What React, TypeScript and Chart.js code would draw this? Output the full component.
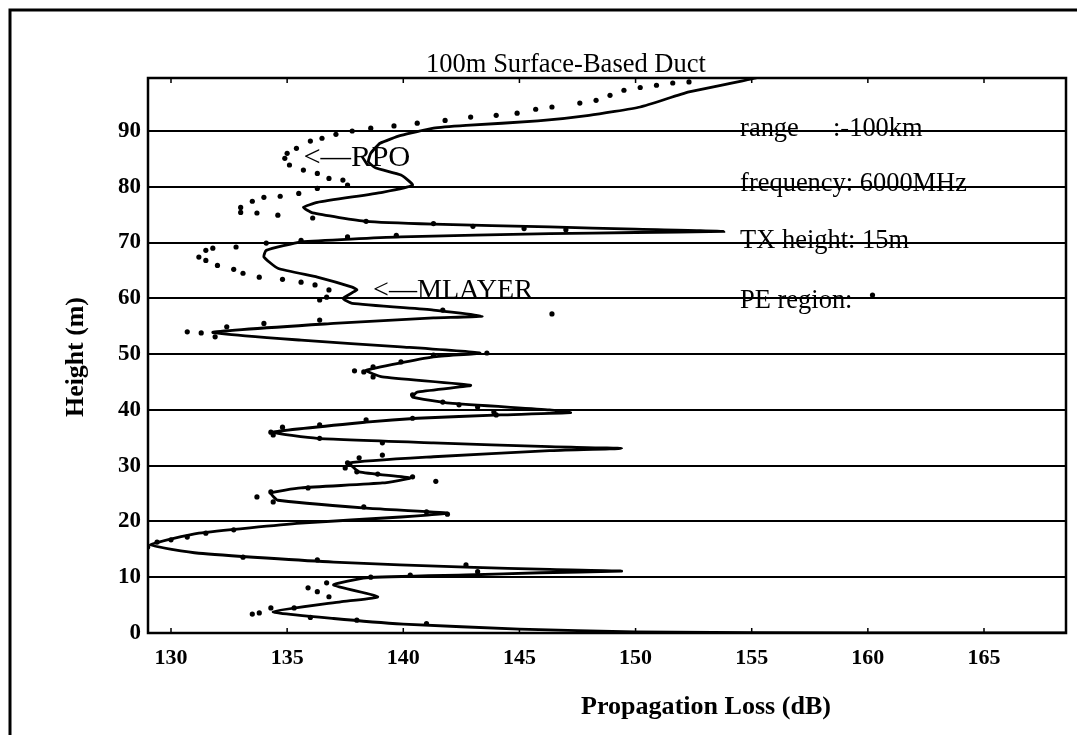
import React, { useEffect, useRef } from 'react';
import { Chart, registerables } from 'chart.js';

Chart.register(...registerables);

const FONT = '"Liberation Serif", "Times New Roman", serif';

// Solid curve (propagation loss in dB vs height in m), traced top to bottom
const solidLoss = [
  155.2, 152.3, 150.2, 148.0, 145.8, 142.7, 141.3, 139.9, 139.0, 138.6,
  138.5, 138.8, 139.9, 140.4, 139.1, 136.3, 135.7, 136.1, 138.4, 141.3,
  146.3, 150.0, 153.8, 150.0, 146.3, 139.9, 135.6, 134.1, 134.0, 134.6,
  136.3, 137.8, 138.0, 137.4, 137.8, 141.3, 143.4, 141.3, 137.0, 131.8,
  135.6, 139.9, 143.3, 141.3, 138.4, 139.1, 142.9, 140.6, 140.4, 142.0,
  146.3, 147.2, 144.2, 140.6, 138.4, 134.4, 136.3, 141.3, 146.3, 149.4,
  146.3, 141.3, 137.7, 138.1, 140.3, 139.1, 135.6, 134.3, 134.6, 138.4,
  141.9, 139.9, 135.6, 131.2, 129.1, 131.2, 137.0, 142.7, 146.3, 149.4,
  145.9, 142.7, 138.4, 137.0, 138.9, 137.3, 134.4, 137.0, 140.0, 145.0,
  150.0, 160.0, 168.5,
];
const solidHeight = [
  99.5, 97.0, 94.3, 92.8, 91.8, 91.0, 90.5, 89.2, 87.8, 86.0,
  84.5, 83.4, 82.1, 80.3, 79.0, 77.2, 76.3, 75.3, 73.8, 73.3,
  72.8, 72.4, 72.0, 71.8, 71.6, 71.0, 70.1, 68.6, 67.4, 65.4,
  63.8, 62.0, 61.5, 60.0, 59.1, 57.9, 56.8, 56.5, 55.5, 53.9,
  52.5, 51.3, 50.2, 49.5, 47.1, 45.9, 44.4, 43.2, 42.3, 41.2,
  40.0, 39.5, 39.1, 38.5, 37.8, 36.0, 34.9, 34.1, 33.4, 33.1,
  32.7, 31.6, 30.5, 28.9, 27.8, 26.9, 26.0, 25.1, 23.8, 22.4,
  21.5, 20.8, 19.7, 17.9, 15.8, 14.3, 12.7, 11.8, 11.4, 11.1,
  10.8, 10.4, 9.9, 8.6, 6.5, 5.6, 3.8, 2.6, 1.6, 0.7,
  0.2, 0.0, 0.0,
];

// Dotted series (PE region points)
const dotLoss = [
  152.3, 151.6, 150.9, 150.2, 149.5, 148.9, 148.3, 147.6, 146.4, 145.7,
  144.9, 144.0, 142.9, 141.8, 140.6, 139.6, 138.6, 137.8, 137.1, 136.5,
  136.0, 135.4, 135.0, 134.9, 135.1, 135.7, 136.3, 136.8, 137.4, 137.6,
  136.3, 135.5, 134.7, 134.0, 133.5, 133.0, 133.0, 133.7, 134.6, 136.1,
  138.4, 141.3, 143.0, 145.2, 147.0,
  139.7, 137.6, 135.6, 134.1, 132.8, 131.8, 131.5, 131.2, 131.5, 132.0,
  132.7, 133.1, 133.8, 134.8, 135.6, 136.2, 136.8, 136.7, 136.4,
  141.7, 146.4, 136.4, 134.0, 132.4, 131.3, 130.7, 131.9,
  143.6, 141.3, 139.9, 138.7, 138.3, 137.9, 138.7,
  140.4, 141.7, 142.4, 143.2, 143.9, 144.0,
  140.4, 138.4, 136.4, 134.8, 134.3, 134.4, 136.4, 139.1,
  139.1, 138.1, 137.6, 137.5, 138.0, 138.9, 140.4, 141.4,
  135.9, 134.3, 133.7, 134.4, 138.3, 141.0, 141.9,
  132.7, 131.5, 130.7, 130.0, 129.4, 129.0, 133.1, 136.3, 142.7,
  143.2, 140.3, 138.6, 136.7, 135.9, 136.3, 136.8,
  135.3, 134.3, 133.8, 133.5, 136.0, 138.0, 141.0,
];
const dotHeight = [
  98.8, 98.6, 98.2, 97.8, 97.3, 96.4, 95.5, 95.0, 94.3, 93.9,
  93.2, 92.8, 92.5, 91.9, 91.4, 90.9, 90.5, 90.0, 89.4, 88.7,
  88.2, 86.9, 86.0, 85.1, 83.9, 83.0, 82.4, 81.5, 81.2, 80.3,
  79.7, 78.8, 78.3, 78.1, 77.4, 76.3, 75.4, 75.3, 74.9, 74.4,
  73.8, 73.4, 72.9, 72.5, 72.3,
  71.3, 71.0, 70.4, 69.9, 69.2, 69.0, 68.6, 67.4, 66.8, 65.9,
  65.2, 64.5, 63.8, 63.4, 62.9, 62.4, 61.5, 60.2, 59.7,
  57.9, 57.2, 56.1, 55.5, 54.9, 53.8, 54.0, 53.1,
  50.2, 49.8, 48.6, 47.7, 46.8, 47.0, 45.9,
  42.7, 41.4, 40.9, 40.5, 39.6, 39.1,
  38.5, 38.2, 37.3, 36.9, 36.0, 35.5, 34.9, 34.1,
  31.9, 31.4, 30.5, 29.6, 28.9, 28.5, 28.0, 27.2,
  26.0, 25.3, 24.4, 23.5, 22.6, 21.7, 21.3,
  18.5, 17.9, 17.2, 16.7, 16.3, 15.4, 13.6, 13.1, 12.2,
  11.0, 10.4, 10.0, 9.0, 8.1, 7.4, 6.5,
  4.5, 4.5, 3.6, 3.4, 2.8, 2.3, 1.7,
];

const yTickValues = [0, 10, 20, 30, 40, 50, 60, 70, 80, 90];
const xTickValues = [130, 135, 140, 145, 150, 155, 160, 165];
const xTickLabels = ['130', '135', '140', '145', '150', '155', '160', '165'];

const chartTitle = '100m Surface-Based Duct';
const xAxisTitle = 'Propagation Loss (dB)';
const yAxisTitle = 'Height (m)';

// Info block text, anchored at (loss, height) of the left baseline
const infoTexts = ['range', 'frequency: 6000MHz', 'TX height: 15m', 'PE region:'];
const infoLoss = [154.5, 154.5, 154.5, 154.5];
const infoHeight = [89.1, 79.2, 69.0, 58.2];
const rangeValueText = ':-100km';
const rangeValueLoss = 158.5;
const peMarkerLoss = 160.2;
const peMarkerHeight = 60.6;

// Curve labels
const markerTexts = ['<\u2014RPO', '<\u2014MLAYER'];
const markerLoss = [135.7, 138.7];
const markerHeight = [83.7, 60.0];
const markerWidths = [107, 160];

const fitSize = (ctx: CanvasRenderingContext2D, text: string, weight: string, target: number) => {
  ctx.font = `${weight} 20px ${FONT}`;
  return (20 * target) / ctx.measureText(text).width;
};

const decorPlugin = {
  id: 'decor',
  afterDraw(chart: any) {
    const { ctx, chartArea: a, scales } = chart;
    const xs = scales.x;
    const ys = scales.y;
    ctx.save();
    ctx.strokeStyle = '#000';
    ctx.fillStyle = '#000';

    // outer frame (left and top visible)
    ctx.lineWidth = 3;
    ctx.beginPath();
    ctx.moveTo(10, 735);
    ctx.lineTo(10, 10);
    ctx.lineTo(1077, 10);
    ctx.stroke();

    // plot frame
    ctx.lineWidth = 2.5;
    ctx.strokeRect(a.left, a.top, a.right - a.left, a.bottom - a.top);

    // small inward ticks
    ctx.lineWidth = 1.5;
    xTickValues.forEach((v) => {
      const px = xs.getPixelForValue(v);
      ctx.beginPath();
      ctx.moveTo(px, a.bottom);
      ctx.lineTo(px, a.bottom - 5);
      ctx.moveTo(px, a.top);
      ctx.lineTo(px, a.top + 5);
      ctx.stroke();
    });

    // chart title
    let s = fitSize(ctx, chartTitle, 'normal', 280);
    ctx.font = `normal ${s}px ${FONT}`;
    ctx.textAlign = 'center';
    ctx.textBaseline = 'alphabetic';
    ctx.fillText(chartTitle, 566, 72);

    // x axis title
    s = fitSize(ctx, xAxisTitle, 'bold', 250);
    ctx.font = `bold ${s}px ${FONT}`;
    ctx.fillText(xAxisTitle, 706, 714);

    // y axis title
    s = fitSize(ctx, yAxisTitle, 'bold', 120);
    ctx.font = `bold ${s}px ${FONT}`;
    ctx.save();
    ctx.translate(76, 357);
    ctx.rotate(-Math.PI / 2);
    ctx.textBaseline = 'middle';
    ctx.fillText(yAxisTitle, 0, 0);
    ctx.restore();

    // info block
    const infoSize = fitSize(ctx, infoTexts[1], 'normal', 227);
    ctx.font = `normal ${infoSize}px ${FONT}`;
    ctx.textAlign = 'left';
    ctx.textBaseline = 'alphabetic';
    infoTexts.forEach((t, i) => {
      ctx.fillText(t, xs.getPixelForValue(infoLoss[i]), ys.getPixelForValue(infoHeight[i]));
    });
    ctx.fillText(rangeValueText, xs.getPixelForValue(rangeValueLoss), ys.getPixelForValue(infoHeight[0]));
    ctx.beginPath();
    ctx.arc(xs.getPixelForValue(peMarkerLoss), ys.getPixelForValue(peMarkerHeight), 2.6, 0, Math.PI * 2);
    ctx.fill();

    // curve labels
    markerTexts.forEach((t, i) => {
      const fs = fitSize(ctx, t, 'normal', markerWidths[i]);
      ctx.font = `normal ${fs}px ${FONT}`;
      ctx.fillText(t, xs.getPixelForValue(markerLoss[i]), ys.getPixelForValue(markerHeight[i]));
    });

    ctx.restore();
  },
};

export default function App() {
  const ref = useRef<HTMLCanvasElement>(null);

  useEffect(() => {
    document.body.style.margin = '0';
    const solid = solidLoss.map((x, i) => ({ x, y: solidHeight[i] }));
    const dots = dotLoss.map((x, i) => ({ x, y: dotHeight[i] }));
    const chart = new Chart(ref.current as HTMLCanvasElement, {
      type: 'scatter',
      data: {
        datasets: [
          {
            label: 'PE region',
            data: dots,
            showLine: false,
            pointRadius: 2.6,
            pointBackgroundColor: '#000',
            pointBorderWidth: 0,
            borderColor: '#000',
          },
          {
            label: 'solid',
            data: solid,
            showLine: true,
            borderColor: '#000',
            borderWidth: 2.8,
            pointRadius: 0,
            tension: 0.15,
          },
        ],
      },
      options: {
        responsive: false,
        animation: false,
        devicePixelRatio: 1,
        layout: { padding: { left: 48, top: 78, right: 11, bottom: 42 } },
        plugins: { legend: { display: false }, tooltip: { enabled: false } },
        scales: {
          x: {
            type: 'linear',
            min: 129.01,
            max: 168.53,
            grid: { display: false },
            border: { display: false },
            afterBuildTicks: (sc: any) => {
              sc.ticks = xTickValues.map((v) => ({ value: v }));
            },
            afterFit: (sc: any) => {
              sc.height = 60;
            },
            ticks: {
              autoSkip: false,
              maxRotation: 0,
              padding: 4,
              color: '#000',
              font: { family: FONT, size: 22, weight: 'bold' },
              callback: (v: any) => xTickLabels[xTickValues.indexOf(Number(v))] ?? '',
            },
          },
          y: {
            type: 'linear',
            min: 0,
            max: 99.5,
            grid: { color: '#000', lineWidth: 2, drawTicks: false },
            border: { display: false },
            afterBuildTicks: (sc: any) => {
              sc.ticks = yTickValues.map((v) => ({ value: v }));
            },
            afterFit: (sc: any) => {
              sc.width = 100;
            },
            ticks: {
              padding: 7,
              color: '#000',
              font: { family: FONT, size: 23, weight: 'bold' },
              callback: (v: any) => String(v),
            },
          },
        },
      },
      plugins: [decorPlugin],
    });
    return () => chart.destroy();
  }, []);

  return (
    <div style={{ position: 'absolute', left: 0, top: 0, width: 1077, height: 735, background: '#fff' }}>
      <canvas ref={ref} width={1077} height={735} style={{ width: 1077, height: 735, display: 'block' }} />
    </div>
  );
}
